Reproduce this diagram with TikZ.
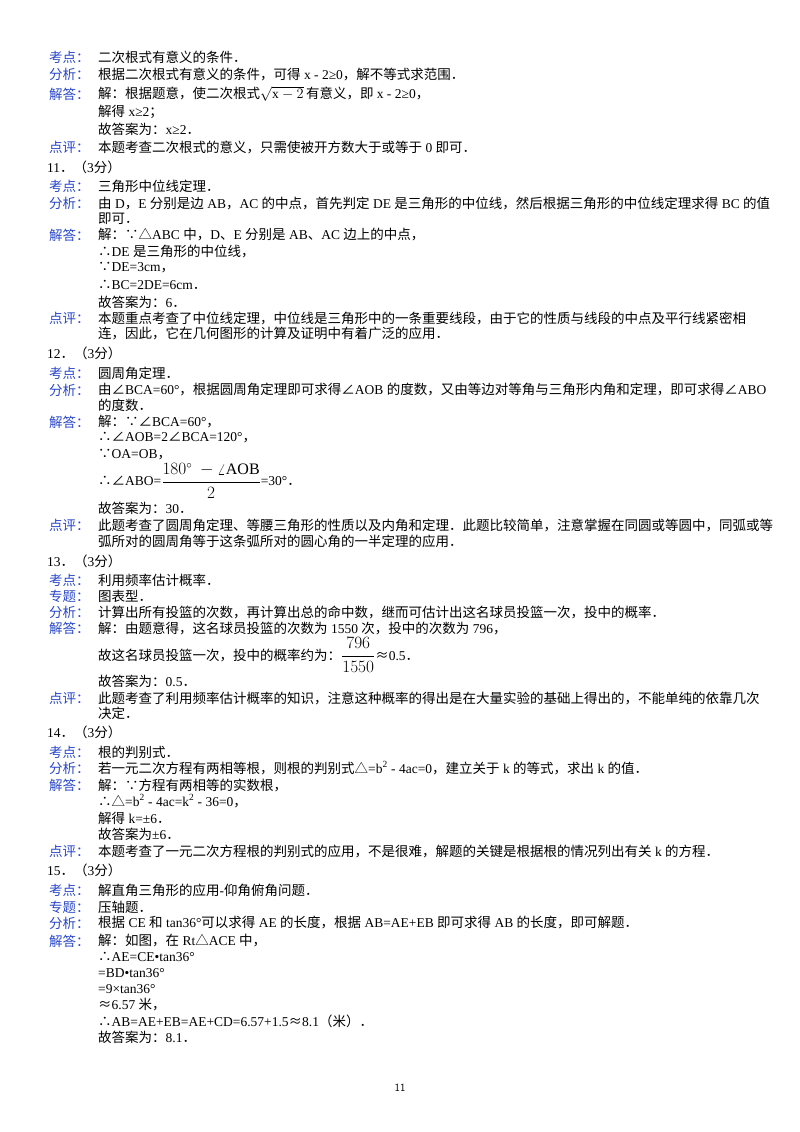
\documentclass[tikz,border=0pt]{standalone}
\usepackage{fontspec}
\setmainfont{Liberation Serif}
\newfontfamily\cjk{Noto Sans CJK SC}
\XeTeXinterchartokenstate=1
\newXeTeXintercharclass\cjkcls
\count255="4E00
\loop\XeTeXcharclass\count255=\cjkcls\ifnum\count255<"9FFF\advance\count255 by 1\repeat
\count255="3000
\loop\XeTeXcharclass\count255=\cjkcls\ifnum\count255<"303F\advance\count255 by 1\repeat
\count255="FF00
\loop\XeTeXcharclass\count255=\cjkcls\ifnum\count255<"FFEF\advance\count255 by 1\repeat
\XeTeXcharclass"2234=\cjkcls
\XeTeXcharclass"2235=\cjkcls
\XeTeXcharclass"2220=\cjkcls
\XeTeXcharclass"25B3=\cjkcls
\XeTeXcharclass"2248=\cjkcls
\XeTeXinterchartoks 0 \cjkcls={\begingroup\cjk}
\XeTeXinterchartoks 4095 \cjkcls={\begingroup\cjk}
\XeTeXinterchartoks \cjkcls 0={\endgroup}
\XeTeXinterchartoks \cjkcls 4095={\endgroup}
\definecolor{labblue}{RGB}{40,70,200}
\tikzset{lab/.style={anchor=west,inner sep=0pt,text=labblue,font=\fontsize{13.5}{16}\selectfont},
txt/.style={anchor=west,inner sep=0pt,font=\fontsize{13.5}{16}\selectfont}}
\newcommand\Ln[3]{\node[lab] at (49,#1) {#2};\node[txt] at (98,#1) {#3};}
\newcommand\Lc[2]{\node[txt] at (98,#1) {#2};}
\newcommand\Lq[2]{\node[txt] at (47,#1) {#2};}
\begin{document}
\begin{tikzpicture}[x=1pt,y=-1pt]
\useasboundingbox (0,0) rectangle (800,1132);
\Ln{57}{考点：}{二次根式有意义的条件．}
\Ln{74}{分析：}{根据二次根式有意义的条件，可得 x - 2≥0，解不等式求范围．}
\Ln{94}{解答：}{解：根据题意，使二次根式$\sqrt{\mathrm{x}-2}\,$有意义，即 x - 2≥0，}
\Lc{112}{解得 x≥2；}
\Lc{129}{故答案为：x≥2．}
\Ln{147}{点评：}{本题考查二次根式的意义，只需使被开方数大于或等于 0 即可．}
\Lq{167}{11．（3分）}
\Ln{186}{考点：}{三角形中位线定理．}
\Ln{203}{分析：}{由 D，E 分别是边 AB，AC 的中点，首先判定 DE 是三角形的中位线，然后根据三角形的中位线定理求得 BC 的值}
\Lc{219}{即可．}
\Ln{235}{解答：}{解：∵△ABC 中，D、E 分别是 AB、AC 边上的中点，}
\Lc{252}{∴DE 是三角形的中位线，}
\Lc{268}{∵DE=3cm，}
\Lc{285}{∴BC=2DE=6cm．}
\Lc{302}{故答案为：6．}
\Ln{318}{点评：}{本题重点考查了中位线定理，中位线是三角形中的一条重要线段，由于它的性质与线段的中点及平行线紧密相}
\Lc{333}{连，因此，它在几何图形的计算及证明中有着广泛的应用．}
\Lq{353}{12．（3分）}
\Ln{373}{考点：}{圆周角定理．}
\Ln{390}{分析：}{由∠BCA=60°，根据圆周角定理即可求得∠AOB 的度数，又由等边对等角与三角形内角和定理，即可求得∠ABO}
\Lc{405}{的度数．}
\Ln{422}{解答：}{解：∵∠BCA=60°，}
\Lc{438}{∴∠AOB=2∠BCA=120°，}
\Lc{455}{∵OA=OB，}
\Lc{481}{∴∠ABO=\raisebox{-1pt}{\fontsize{16}{18}\selectfont$\displaystyle\frac{180^\circ\ -\angle \mathrm{AOB}}{2}$}=30°．}
\Lc{508}{故答案为：30．}
\Ln{525}{点评：}{此题考查了圆周角定理、等腰三角形的性质以及内角和定理．此题比较简单，注意掌握在同圆或等圆中，同弧或等}
\Lc{541}{弧所对的圆周角等于这条弧所对的圆心角的一半定理的应用．}
\Lq{561}{13．（3分）}
\Ln{580}{考点：}{利用频率估计概率．}
\Ln{596}{专题：}{图表型．}
\Ln{612}{分析：}{计算出所有投篮的次数，再计算出总的命中数，继而可估计出这名球员投篮一次，投中的概率．}
\Ln{628}{解答：}{解：由题意得，这名球员投篮的次数为 1550 次，投中的次数为 796，}
\Lc{655}{故这名球员投篮一次，投中的概率约为：{\fontsize{16}{18}\selectfont$\displaystyle\frac{796}{1550}$}≈0.5．}
\Lc{681}{故答案为：0.5．}
\Ln{698}{点评：}{此题考查了利用频率估计概率的知识，注意这种概率的得出是在大量实验的基础上得出的，不能单纯的依靠几次}
\Lc{713}{决定．}
\Lq{732}{14．（3分）}
\Ln{752}{考点：}{根的判别式．}
\Ln{768}{分析：}{若一元二次方程有两相等根，则根的判别式△=b\textsuperscript{2} - 4ac=0，建立关于 k 的等式，求出 k 的值．}
\Ln{785}{解答：}{解：∵方程有两相等的实数根，}
\Lc{801}{∴△=b\textsuperscript{2} - 4ac=k\textsuperscript{2} - 36=0，}
\Lc{818}{解得 k=±6．}
\Lc{834}{故答案为±6．}
\Ln{851}{点评：}{本题考查了一元二次方程根的判别式的应用，不是很难，解题的关键是根据根的情况列出有关 k 的方程．}
\Lq{870}{15．（3分）}
\Ln{890}{考点：}{解直角三角形的应用-仰角俯角问题．}
\Ln{907}{专题：}{压轴题．}
\Ln{923}{分析：}{根据 CE 和 tan36°可以求得 AE 的长度，根据 AB=AE+EB 即可求得 AB 的长度，即可解题．}
\Ln{941}{解答：}{解：如图，在 Rt△ACE 中，}
\Lc{957}{∴AE=CE•tan36°}
\Lc{973}{=BD•tan36°}
\Lc{989}{=9×tan36°}
\Lc{1005}{≈6.57 米，}
\Lc{1021}{∴AB=AE+EB=AE+CD=6.57+1.5≈8.1（米）．}
\Lc{1037}{故答案为：8.1．}
\node[font=\sffamily\fontsize{11}{13}\selectfont] (pg) at (400,1088) {11};
\end{tikzpicture}
\end{document}
